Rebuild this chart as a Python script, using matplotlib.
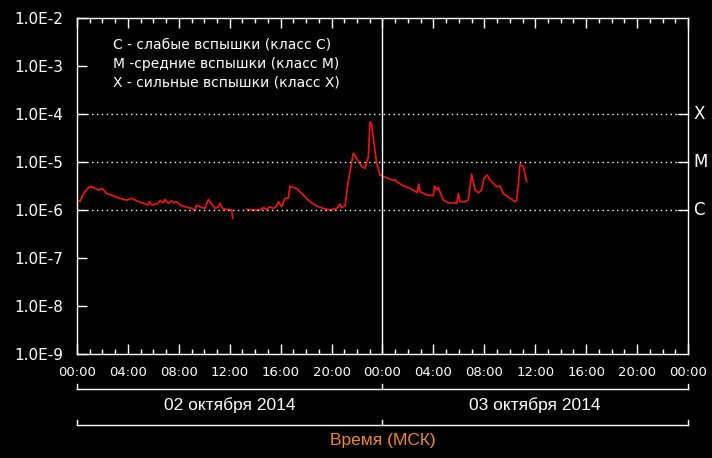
import numpy as np
import matplotlib
matplotlib.use("Agg")
import matplotlib.pyplot as plt
from matplotlib.ticker import FixedLocator, NullFormatter

# X-ray flux (W/m^2) vs hours since 02 Oct 2014 00:00 MSK
hours = [0.0, 0.24, 0.45, 0.63, 0.97, 1.28, 1.68, 1.99, 2.33, 2.72, 3.12, 3.64, 3.90,
         4.29, 4.69, 5.21, 5.60, 5.68, 5.87, 6.39, 6.52, 6.78, 6.91, 7.17, 7.44, 7.57,
         7.83, 8.09, 8.48, 9.01, 9.27, 9.40, 9.66, 10.06, 10.32, 10.58, 10.84, 11.10,
         11.23, 11.44, 11.76, 12.15, 12.23, 12.8,
         13.33, 13.85, 14.38, 14.64, 14.90, 15.16, 15.42, 15.69, 15.82, 16.08, 16.34,
         16.60, 16.73, 17.0, 17.26, 17.78, 18.30, 18.70, 18.96, 19.35, 19.88, 20.40,
         20.66, 20.79, 21.05, 21.32, 21.71, 21.97, 22.37, 22.63, 22.89, 23.02, 23.15,
         23.33, 23.54, 23.80, 24.07, 24.46, 24.85, 24.98, 25.11, 25.51, 26.16, 26.74,
         26.84, 26.95, 27.47, 27.99, 28.10, 28.26, 28.39, 28.52, 28.78, 29.17, 29.83,
         29.96, 30.09, 30.48, 30.74, 31.00, 31.27, 31.53, 31.79, 31.97, 32.24, 32.45,
         32.97, 33.23, 33.49, 34.02, 34.41, 34.54, 34.67, 34.80, 35.06, 35.33]
flux = [1.6e-6, 1.5e-6, 2.05e-6, 2.4e-6, 3.06e-6, 2.96e-6, 2.6e-6, 2.8e-6, 2.2e-6,
        2.05e-6, 1.84e-6, 1.67e-6, 1.6e-6, 1.75e-6, 1.56e-6, 1.38e-6, 1.27e-6, 1.49e-6,
        1.27e-6, 1.38e-6, 1.56e-6, 1.42e-6, 1.67e-6, 1.38e-6, 1.56e-6, 1.42e-6, 1.49e-6,
        1.27e-6, 1.17e-6, 1.08e-6, 1.0e-6, 1.27e-6, 1.17e-6, 1.08e-6, 1.67e-6, 1.33e-6,
        1.08e-6, 1.17e-6, 1.38e-6, 1.08e-6, 1.03e-6, 1.0e-6, 6.7e-7, np.nan,
        1.03e-6, 1.0e-6, 1.0e-6, 1.12e-6, 1.03e-6, 1.17e-6, 1.08e-6, 1.21e-6, 1.49e-6,
        1.17e-6, 1.75e-6, 1.75e-6, 3.16e-6, 2.96e-6, 2.8e-6, 2.05e-6, 1.49e-6, 1.27e-6,
        1.17e-6, 1.08e-6, 1.0e-6, 1.08e-6, 1.33e-6, 1.12e-6, 1.21e-6, 4.2e-6, 1.52e-5,
        1.19e-5, 8.0e-6, 7.4e-6, 1.29e-5, 6.9e-5, 5.9e-5, 2.45e-5, 9.4e-6, 5.4e-6,
        4.95e-6, 4.57e-6, 4.09e-6, 4.35e-6, 3.9e-6, 3.32e-6, 2.83e-6, 2.3e-6, 3.48e-6,
        2.41e-6, 2.05e-6, 1.99e-6, 3.16e-6, 2.61e-6, 2.96e-6, 2.41e-6, 1.6e-6, 1.42e-6,
        1.38e-6, 2.2e-6, 1.49e-6, 1.49e-6, 1.6e-6, 5.6e-6, 2.61e-6, 2.3e-6, 2.61e-6,
        4.57e-6, 5.36e-6, 4.2e-6, 3.06e-6, 3.16e-6, 2.2e-6, 1.75e-6, 1.49e-6, 1.6e-6,
        3.32e-6, 8.9e-6, 8.0e-6, 3.9e-6]

time_ticks = list(range(0, 49, 4))
time_labels = ["00:00", "04:00", "08:00", "12:00", "16:00", "20:00", "00:00",
               "04:00", "08:00", "12:00", "16:00", "20:00", "00:00"]
y_ticks = [1e-9, 1e-8, 1e-7, 1e-6, 1e-5, 1e-4, 1e-3, 1e-2]
y_labels = ["1.0E-9", "1.0E-8", "1.0E-7", "1.0E-6", "1.0E-5", "1.0E-4", "1.0E-3", "1.0E-2"]
class_levels = [1e-6, 1e-5, 1e-4]
class_names = ["C", "M", "X"]
days = ["02 октября 2014", "03 октября 2014"]
legend_lines = ["С - слабые вспышки (класс С)",
                "М -средние вспышки (класс М)",
                "Х - сильные вспышки (класс Х)"]

fig = plt.figure(figsize=(7.12, 4.58), dpi=100, facecolor="black")
ax = fig.add_axes([77 / 712, 1 - 354 / 458, 611 / 712, 336 / 458], facecolor="black")

ax.plot(hours, flux, color="#f01414", lw=1.2)
ax.set_yscale("log")
ax.set_ylim(1e-9, 1e-2)
ax.set_xlim(0, 48)

for lvl in class_levels:
    ax.axhline(lvl, color="white", lw=1, ls=(0, (1, 2.5)))
ax.axvline(24, color="white", lw=1)

for s in ax.spines.values():
    s.set_color("white")
    s.set_linewidth(1)

ax.yaxis.set_major_locator(FixedLocator(y_ticks))
ax.yaxis.set_minor_locator(FixedLocator([]))
ax.set_yticklabels(y_labels)
ax.tick_params(axis="y", which="major", direction="in", length=7, width=1,
               color="white", labelcolor="white", labelsize=11, pad=10)

ax.xaxis.set_major_locator(FixedLocator(time_ticks))
ax.xaxis.set_minor_locator(FixedLocator(range(0, 49)))
ax.xaxis.set_minor_formatter(NullFormatter())
ax.set_xticklabels(time_labels)
ax.tick_params(axis="x", which="both", direction="in", top=True, color="white",
               labelcolor="white", width=1, pad=9, labelsize=9.5)
ax.tick_params(axis="x", which="major", length=7)
ax.tick_params(axis="x", which="minor", length=3.5)

# class labels + ticks on the right
tr = ax.get_yaxis_transform()
for lvl, nm in zip(class_levels, class_names):
    ax.plot([0.983, 1.0], [lvl, lvl], color="white", lw=1, transform=tr, clip_on=False)
    ax.text(1.009, lvl, nm, color="white", fontsize=12, va="center", ha="left",
            transform=tr)

for i, t in enumerate(legend_lines):
    ax.text(0.059, 0.92 - i * 0.056, t, color="white", fontsize=10,
            transform=ax.transAxes, va="center", ha="left")

# date brackets
xt = ax.get_xaxis_transform()
for yb in (-0.104, -0.211):
    ax.plot([0, 48], [yb, yb], color="white", lw=1, transform=xt, clip_on=False)
    for xv in (0, 24, 48):
        ax.plot([xv, xv], [yb, yb + 0.015], color="white", lw=1, transform=xt,
                clip_on=False)
for i, d in enumerate(days):
    ax.text(12 + 24 * i, -0.152, d, color="white", fontsize=12.5, family="Liberation Sans",
            ha="center", va="center", transform=xt)
ax.text(24, -0.256, "Время (МСК)", color="#f08a26", fontsize=12.5, family="Liberation Sans",
        ha="center", va="center", transform=xt)

fig.savefig("out.png", dpi=100, facecolor="black")
